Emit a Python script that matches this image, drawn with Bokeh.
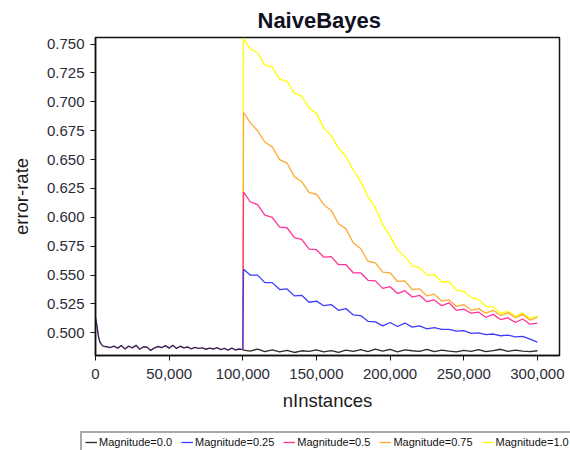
from bokeh.plotting import figure
from bokeh.layouts import column, row
from bokeh.models import Legend, LegendItem, FixedTicker, NumeralTickFormatter, Range1d
from bokeh.embed import file_html
from bokeh.resources import INLINE

# ---------------- data ----------------
title = "NaiveBayes"
x_label = "nInstances"
y_label = "error-rate"

series_labels = ["Magnitude=0.0", "Magnitude=0.25", "Magnitude=0.5", "Magnitude=0.75", "Magnitude=1.0"]

x_ticks = [0, 50000, 100000, 150000, 200000, 250000, 300000]
y_ticks = [0.500, 0.525, 0.550, 0.575, 0.600, 0.625, 0.650, 0.675, 0.700, 0.725, 0.750]

# before the drift (all magnitudes share the same stream)
x_pre = [0, 1000, 2000, 3000, 4000, 5000] + list(range(7500, 100001, 2500))
err_pre = [
    0.5130, 0.5060, 0.4970, 0.4920, 0.4900, 0.4885, 0.4880, 0.4872, 0.4885, 0.4868,
    0.4890, 0.4860, 0.4885, 0.4870, 0.4892, 0.4858, 0.4880, 0.4875, 0.4848, 0.4870,
    0.4882, 0.4872, 0.4889, 0.4868, 0.4893, 0.4865, 0.4884, 0.4870, 0.4878, 0.4862,
    0.4874, 0.4866, 0.4870, 0.4858, 0.4868, 0.4860, 0.4872, 0.4855, 0.4866, 0.4850,
    0.4868, 0.4852, 0.4860, 0.4855,
]

# after the drift
x_post = [100500] + list(range(105000, 300001, 5000))

err_m000 = [
    0.4850, 0.4842, 0.4860, 0.4838, 0.4852, 0.4835, 0.4848, 0.4830, 0.4845, 0.4840,
    0.4852, 0.4836, 0.4846, 0.4832, 0.4850, 0.4840, 0.4855, 0.4838, 0.4860, 0.4842,
    0.4858, 0.4836, 0.4852, 0.4845, 0.4840, 0.4856, 0.4838, 0.4850, 0.4842, 0.4836,
    0.4848, 0.4840, 0.4855, 0.4838, 0.4846, 0.4858, 0.4840, 0.4850, 0.4842, 0.4838,
    0.4845,
]
err_m025 = [
    0.5550, 0.5500, 0.5500, 0.5435, 0.5435, 0.5375, 0.5380, 0.5320, 0.5325, 0.5265,
    0.5275, 0.5235, 0.5245, 0.5195, 0.5210, 0.5155, 0.5150, 0.5100, 0.5095, 0.5060,
    0.5090, 0.5055, 0.5085, 0.5050, 0.5060, 0.5035, 0.5045, 0.5030, 0.5030, 0.5015,
    0.5020, 0.4995, 0.5000, 0.4985, 0.4990, 0.4975, 0.4980, 0.4965, 0.4970, 0.4945,
    0.4920,
]
err_m050 = [
    0.6220, 0.6135, 0.6110, 0.6020, 0.6000, 0.5915, 0.5910, 0.5825, 0.5810, 0.5725,
    0.5720, 0.5655, 0.5660, 0.5590, 0.5590, 0.5520, 0.5520, 0.5455, 0.5450, 0.5385,
    0.5400, 0.5340, 0.5365, 0.5310, 0.5325, 0.5270, 0.5285, 0.5235, 0.5260, 0.5195,
    0.5205, 0.5170, 0.5180, 0.5135, 0.5160, 0.5115, 0.5130, 0.5090, 0.5120, 0.5075,
    0.5085,
]
err_m075 = [
    0.6910, 0.6820, 0.6750, 0.6650, 0.6610, 0.6500, 0.6470, 0.6350, 0.6310, 0.6215,
    0.6200, 0.6110, 0.6060, 0.5945, 0.5900, 0.5780, 0.5730, 0.5620, 0.5605, 0.5525,
    0.5520, 0.5445, 0.5450, 0.5375, 0.5380, 0.5320, 0.5335, 0.5275, 0.5285, 0.5230,
    0.5245, 0.5195, 0.5210, 0.5170, 0.5195, 0.5150, 0.5175, 0.5130, 0.5160, 0.5110,
    0.5135,
]
err_m100 = [
    0.7550, 0.7460, 0.7425, 0.7320, 0.7300, 0.7195, 0.7180, 0.7075, 0.7050, 0.6945,
    0.6900, 0.6770, 0.6705, 0.6600, 0.6525, 0.6410, 0.6310, 0.6180, 0.6080, 0.5940,
    0.5840, 0.5720, 0.5660, 0.5580, 0.5565, 0.5500, 0.5505, 0.5440, 0.5445, 0.5370,
    0.5360, 0.5305, 0.5290, 0.5230, 0.5225, 0.5170, 0.5185, 0.5145, 0.5170, 0.5125,
    0.5145,
]

series_values = [err_m000, err_m025, err_m050, err_m075, err_m100]
series_colors = ["#2a2a2a", "#3c3cff", "#ff3399", "#ffaa33", "#ffff00"]

# ---------------- main figure ----------------
FONT = "Liberation Sans"

p = figure(width=570, height=425, output_backend="svg", toolbar_location=None,
           x_range=Range1d(0, 315000), y_range=Range1d(0.4804, 0.7557),
           min_border_left=95, min_border_right=11, min_border_top=37,
           min_border_bottom=70, background_fill_color="white",
           border_fill_color="white")

p.title.text = title
p.title.align = "left"
p.title.offset = 162
p.title.text_font = FONT
p.title.text_font_size = "22px"
p.title.text_font_style = "bold"
p.title.text_color = "#111122"

p.xgrid.visible = False
p.ygrid.visible = False
p.outline_line_color = "#111111"
p.outline_line_width = 1.5

p.xaxis.ticker = FixedTicker(ticks=x_ticks)
p.xaxis.formatter = NumeralTickFormatter(format="0,0")
p.yaxis.ticker = FixedTicker(ticks=y_ticks)
p.yaxis.formatter = NumeralTickFormatter(format="0.000")
p.xaxis.axis_label = x_label
p.yaxis.axis_label = y_label

for ax in (p.xaxis, p.yaxis):
    ax.axis_line_color = "#111111"
    ax.axis_line_width = 1.5
    ax.major_tick_line_color = "#111111"
    ax.major_tick_in = 0
    ax.major_tick_out = 5
    ax.minor_tick_line_color = None
    ax.major_label_text_font = FONT
    ax.major_label_text_font_size = "15px"
    ax.major_label_text_color = "#2b2b38"
    ax.axis_label_text_font = FONT
    ax.axis_label_text_font_size = "18.5px"
    ax.axis_label_text_font_style = "normal"
    ax.axis_label_text_color = "#1a1a1a"

p.yaxis.major_label_standoff = 6
p.xaxis.major_label_standoff = 8
p.yaxis.axis_label_standoff = 12
p.xaxis.axis_label_standoff = 8

# shared pre-drift segment (all series overlap -> dark blended colour)
p.line(x_pre, err_pre, line_color="#3b1f4f", line_width=1.4)

order = [4, 3, 2, 1, 0]
for i in order:
    xs = [x_pre[-1]] + x_post
    ys = [err_pre[-1]] + series_values[i]
    p.line(xs, ys, line_color=series_colors[i], line_width=1.3)

# ---------------- legend strip ----------------
lg = figure(width=570, height=25, output_backend="svg", toolbar_location=None,
            x_axis_location=None, y_axis_location=None, min_border=0,
            x_range=Range1d(0, 1), y_range=Range1d(0, 1),
            background_fill_color="white", border_fill_color="white")
lg.outline_line_color = None
lg.xgrid.visible = False
lg.ygrid.visible = False

items = []
for i in range(5):
    # legend proxies: points placed outside the strip's visible range
    r = lg.line([-5, -4], [-5, -5], line_color=series_colors[i], line_width=1.3)
    items.append(LegendItem(label=series_labels[i], renderers=[r]))

legend = Legend(items=items, location=(80, -3), orientation="horizontal",
                label_text_font=FONT, label_text_font_size="11px",
                label_text_color="#111111", glyph_width=12, glyph_height=12,
                label_height=12, label_standoff=2, spacing=9, padding=3,
                margin=0, border_line_color="#555555", border_line_width=2,
                background_fill_color="white", background_fill_alpha=1)
lg.add_layout(legend)

layout = column(p, row(lg), spacing=0)
open("out.html", "w").write(file_html(layout, INLINE))
